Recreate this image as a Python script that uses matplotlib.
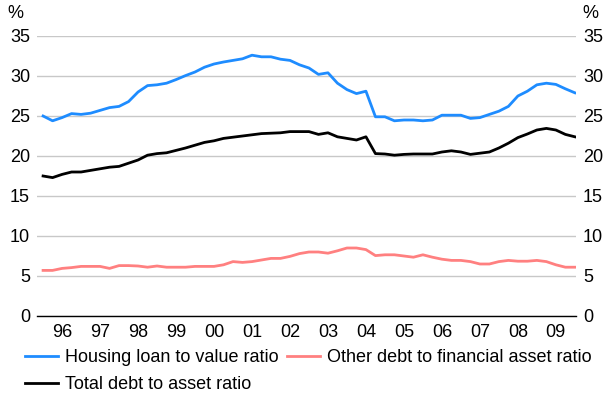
import numpy as np
import matplotlib
matplotlib.use("Agg")
import matplotlib.pyplot as plt
from matplotlib.ticker import FixedLocator

# quarterly observations, 1996 start to 2010 start
start_year = 1996
housing_ltv = [
    25.0, 24.4, 24.8, 25.3, 25.2, 25.35, 25.7, 26.05, 26.2, 26.8,
    28.0, 28.8, 28.9, 29.1, 29.55, 30.05, 30.5, 31.1, 31.5, 31.75,
    31.95, 32.15, 32.6, 32.4, 32.4, 32.1, 31.95, 31.4, 31.0, 30.2,
    30.4, 29.1, 28.3, 27.8, 28.1, 24.9, 24.9, 24.4, 24.5, 24.5,
    24.4, 24.5, 25.1, 25.1, 25.1, 24.7, 24.8, 25.2, 25.6, 26.2,
    27.5, 28.1, 28.9, 29.1, 28.95, 28.4, 27.9,
]
other_debt = [
    5.7, 5.7, 5.95, 6.05, 6.2, 6.2, 6.2, 5.95, 6.3, 6.3,
    6.25, 6.1, 6.25, 6.1, 6.1, 6.1, 6.2, 6.2, 6.2, 6.4,
    6.8, 6.7, 6.8, 7.0, 7.2, 7.2, 7.45, 7.8, 8.0, 8.0,
    7.85, 8.15, 8.5, 8.5, 8.3, 7.55, 7.65, 7.65, 7.5, 7.35,
    7.65, 7.35, 7.1, 6.95, 6.95, 6.8, 6.5, 6.5, 6.8, 6.95,
    6.85, 6.85, 6.95, 6.8, 6.4, 6.1, 6.1,
]
total_debt = [
    17.5, 17.3, 17.7, 18.0, 18.0, 18.2, 18.4, 18.6, 18.7, 19.1,
    19.5, 20.1, 20.3, 20.4, 20.7, 21.0, 21.35, 21.7, 21.9, 22.2,
    22.35, 22.5, 22.65, 22.8, 22.85, 22.9, 23.05, 23.05, 23.05, 22.7,
    22.9, 22.4, 22.2, 22.0, 22.4, 20.3, 20.25, 20.1, 20.2, 20.25,
    20.25, 20.25, 20.5, 20.65, 20.5, 20.2, 20.35, 20.5, 21.0, 21.6,
    22.3, 22.75, 23.25, 23.45, 23.25, 22.7, 22.4,
]
year_labels = ["96", "97", "98", "99", "00", "01", "02", "03", "04",
               "05", "06", "07", "08", "09"]
y_ticks = [0, 5, 10, 15, 20, 25, 30, 35]

x = start_year + np.arange(len(housing_ltv)) / 4.0

plt.rcParams.update({
    "font.family": ["Liberation Sans", "DejaVu Sans"],
    "font.size": 13,
})
fs = 13

fig = plt.figure(figsize=(6.03, 3.97), dpi=100)
ax = fig.add_axes([37 / 603, 1 - 316 / 397, 539 / 603, 280 / 397])

blue = "#1E8CFF"
pink = "#FF8080"
l1, = ax.plot(x, housing_ltv, color=blue, linewidth=2.0,
              label="Housing loan to value ratio")
l2, = ax.plot(x, other_debt, color=pink, linewidth=2.0,
              label="Other debt to financial asset ratio")
l3, = ax.plot(x, total_debt, color="black", linewidth=2.0,
              label="Total debt to asset ratio")

ax.set_xlim(1995.84, 2010.03)
ax.set_ylim(0, 35)
ax.set_yticks(y_ticks)
ax.yaxis.grid(True, color="#c8c8c8", linewidth=1.0)
ax.set_axisbelow(True)
for side in ["left", "right", "top"]:
    ax.spines[side].set_visible(False)
ax.spines["bottom"].set_color("black")
ax.spines["bottom"].set_linewidth(1.0)

ax.tick_params(axis="y", which="both", length=0, pad=5,
               labelleft=True, labelright=True, labelsize=fs)
mids = [start_year + i + 0.5 for i in range(len(year_labels))]
ax.xaxis.set_major_locator(FixedLocator([]))
ax.set_xticks(mids, minor=True)
ax.set_xticklabels(year_labels, minor=True)
ax.tick_params(axis="x", which="minor", length=0, pad=6, labelsize=fs)

fig.text(15 / 603, 1 - 13 / 397, "%", ha="center", va="center", fontsize=fs)
fig.text(590 / 603, 1 - 13 / 397, "%", ha="center", va="center", fontsize=fs)

fig.legend([l1, l3, l2],
           [l1.get_label(), l3.get_label(), l2.get_label()],
           ncol=2, frameon=False, fontsize=fs,
           loc="upper left", bbox_to_anchor=(25 / 603, 1 - 349 / 397),
           handlelength=1.83, handletextpad=0.39, columnspacing=0.44,
           labelspacing=0.55, borderaxespad=0, borderpad=0)

fig.savefig("out.png", dpi=100, facecolor="white")
